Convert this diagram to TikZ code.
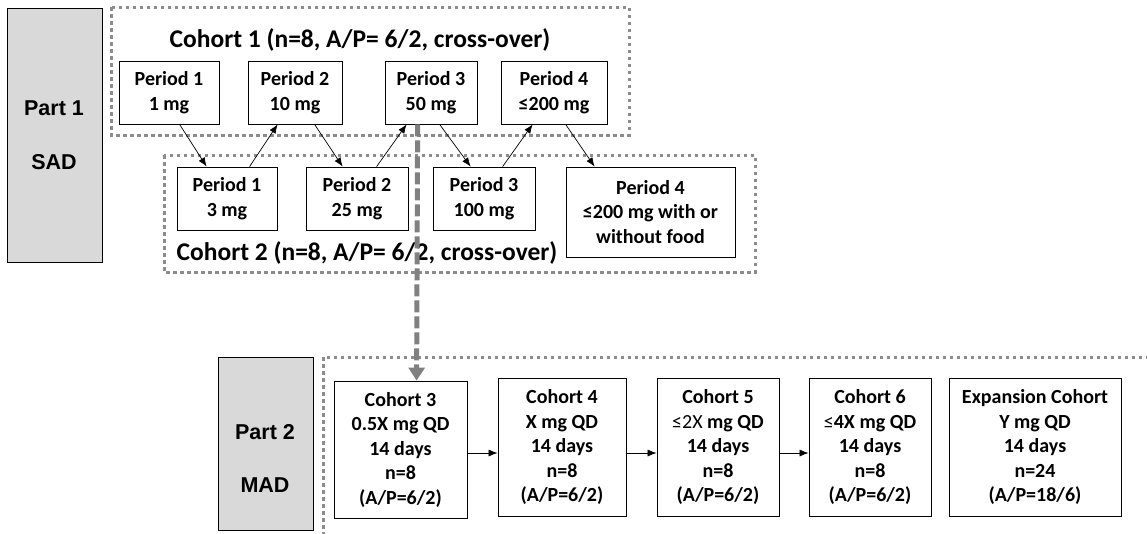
\documentclass[tikz,border=0pt]{standalone}
\usepackage{fontspec}
\setmainfont{Carlito}
\newfontfamily\arialfont{Liberation Sans}
\usetikzlibrary{arrows.meta}
\definecolor{partgray}{HTML}{D9D9D9}
\definecolor{dotgray}{HTML}{8C8C8C}
\definecolor{arrgray}{HTML}{808080}
\tikzset{
  pbox/.style={draw=black, line width=0.8pt, fill=white, inner sep=0pt, align=center,
    font=\bfseries\fontsize{20}{24.5}\selectfont},
  partbox/.style={draw=black, line width=0.8pt, fill=partgray},
  parttext/.style={font=\arialfont\bfseries\fontsize{21.5}{25}\selectfont, inner sep=0pt},
  dotframe/.style={draw=dotgray, line width=3pt, dash pattern=on 3.5pt off 3.5pt},
  ctitle/.style={font=\bfseries\fontsize{25.5}{28}\selectfont, inner sep=0pt},
  thinarrow/.style={draw=black, line width=0.7pt, -{Latex[length=9pt,width=7pt]}},
  bigarrow/.style={draw=arrgray, line width=5pt, dash pattern=on 12pt off 4pt, -{Triangle[length=13pt,width=16pt]}}
}
\begin{document}
\begin{tikzpicture}[x=1pt,y=-1pt]
\useasboundingbox (0,0) rectangle (1147,533);
\clip (0,0) rectangle (1147,533);
% Part boxes
\draw[partbox] (7,8) rectangle (102,262);
\node[parttext] (part1) at (54,108) {Part 1};
\node[parttext] (sad) at (54,162) {SAD};
\draw[partbox] (218,357) rectangle (313,530);
\node[parttext] (part2) at (265,432) {Part 2};
\node[parttext] (mad) at (265,485) {MAD};
% dotted frames
\draw[dotframe] (111,7) rectangle (629,135);
\draw[dotframe] (164,155) rectangle (755,272);
\draw[dotframe] (323,357) rectangle (1170,560);
% titles
\node[ctitle] (t1) at (360,40) {Cohort 1 (n=8, A/P= 6/2, cross-over)};
\node[ctitle] (t2) at (367,253) {Cohort 2 (n=8, A/P= 6/2, cross-over)};
% top row
\node[pbox, minimum width=100pt, minimum height=63pt] (p1a) at (169,92.5) {Period 1\\1 mg};
\node[pbox, minimum width=94pt, minimum height=63pt] (p2a) at (295,92.5) {Period 2\\10 mg};
\node[pbox, minimum width=92pt, minimum height=63pt] (p3a) at (431,92.5) {Period 3\\50 mg};
\node[pbox, minimum width=106pt, minimum height=63pt] (p4a) at (554,92.5) {Period 4\\≤200 mg};
% bottom row
\node[pbox, minimum width=100pt, minimum height=63pt] (p1b) at (227,198.5) {Period 1\\3 mg};
\node[pbox, minimum width=102pt, minimum height=63pt] (p2b) at (357,198.5) {Period 2\\25 mg};
\node[pbox, minimum width=102pt, minimum height=63pt] (p3b) at (484,198.5) {Period 3\\100 mg};
\node[pbox, minimum width=169pt, minimum height=90pt] (p4b) at (650.5,212) {Period 4\\≤200 mg with or\\without food};
% arrows between periods
\draw[thinarrow] ([xshift=61pt]p1a.south west) -- ([xshift=30pt]p1b.north west);
\draw[thinarrow] ([xshift=73pt]p1b.north west) -- ([xshift=30pt]p2a.south west);
\draw[thinarrow] ([xshift=67pt]p2a.south west) -- ([xshift=37pt]p2b.north west);
\draw[thinarrow] ([xshift=71pt]p2b.north west) -- ([xshift=22pt]p3a.south west);
\draw[thinarrow] ([xshift=55pt]p3a.south west) -- ([xshift=38pt]p3b.north west);
\draw[thinarrow] ([xshift=70pt]p3b.north west) -- ([xshift=32pt]p4a.south west);
\draw[thinarrow] ([xshift=65pt]p4a.south west) -- ([xshift=29pt]p4b.north west);
% MAD cohorts
\node[pbox, minimum width=133pt, minimum height=137pt] (c3) at (400.5,449.5) {Cohort 3\\0.5X mg QD\\14 days\\n=8\\(A/P=6/2)};
\node[pbox, minimum width=128pt, minimum height=138pt] (c4) at (562,447) {Cohort 4\\X mg QD\\14 days\\n=8\\(A/P=6/2)};
\node[pbox, minimum width=122pt, minimum height=138pt] (c5) at (718,447) {Cohort 5\\{\mdseries ≤2X} mg QD\\14 days\\n=8\\(A/P=6/2)};
\node[pbox, minimum width=122pt, minimum height=138pt] (c6) at (870,447) {Cohort 6\\{\mdseries ≤}4X mg QD\\14 days\\n=8\\(A/P=6/2)};
\node[pbox, minimum width=172pt, minimum height=138pt] (ce) at (1035,447) {Expansion Cohort\\Y mg QD\\14 days\\n=24\\(A/P=18/6)};
\draw[thinarrow] (c3.east |- 0,453) -- (c4.west |- 0,453);
\draw[thinarrow] (c4.east |- 0,453) -- (c5.west |- 0,453);
\draw[thinarrow] (c5.east |- 0,453) -- (c6.west |- 0,453);
% big dashed arrow
\draw[bigarrow] ([xshift=33pt]p3a.south west) -- ([xshift=83pt]c3.north west);
\end{tikzpicture}
\end{document}
